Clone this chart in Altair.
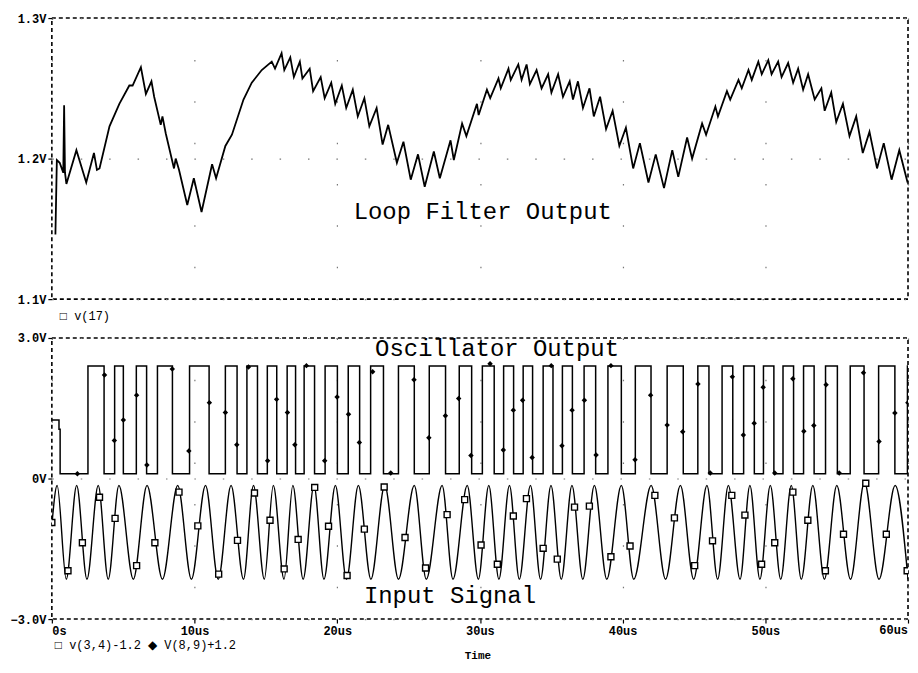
import altair as alt
import pandas as pd

# ---------------- data ----------------
# Loop filter output v(17)  (time in us, volts)
lf_t = [0.25, 0.35, 0.55, 0.80, 0.86, 0.92, 1.02, 1.72, 2.41, 2.95, 3.16, 3.34, 4.04, 4.73,
        5.43, 5.66, 6.24, 6.59, 6.98, 7.17, 7.63, 7.75, 7.98, 8.56, 8.68, 8.91, 9.49, 9.95,
        10.49, 11.23, 11.51, 12.16, 12.62, 13.43, 14.01, 14.71, 15.41, 15.64, 16.10, 16.29,
        16.71, 16.96, 17.38, 17.56, 18.07, 18.31, 18.84, 19.12, 19.58, 19.86, 20.32, 20.63,
        21.09, 21.44, 21.90, 22.25, 22.76, 23.18, 23.57, 24.18, 24.64, 25.15, 25.66, 26.13,
        26.77, 27.19, 27.94, 28.17, 28.75, 29.05, 29.79, 29.91, 30.49, 30.72, 31.30, 31.46,
        32.00, 32.16, 32.69, 32.92, 33.27, 33.50, 33.97, 34.32, 34.78, 35.01, 35.48, 35.82,
        36.29, 36.52, 36.87, 37.22, 37.68, 37.98, 38.42, 38.84, 39.30, 39.77, 40.23, 40.74,
        41.21, 41.81, 42.32, 42.90, 43.48, 43.90, 44.52, 44.87, 45.57, 45.85, 46.50, 46.68,
        47.31, 47.54, 48.12, 48.35, 48.82, 49.05, 49.51, 49.75, 50.21, 50.44, 50.90, 51.14,
        51.60, 51.95, 52.30, 52.65, 53.00, 53.46, 53.93, 54.16, 54.62, 54.97, 55.44, 55.90,
        56.37, 56.83, 57.30, 57.83, 58.30, 58.85, 59.39, 59.97]
lf_v = [1.146, 1.199, 1.197, 1.190, 1.238, 1.190, 1.182, 1.206, 1.183, 1.204, 1.192, 1.193,
        1.223, 1.239, 1.252, 1.252, 1.265, 1.246, 1.255, 1.244, 1.224, 1.230, 1.218, 1.193,
        1.200, 1.192, 1.167, 1.186, 1.162, 1.196, 1.186, 1.209, 1.217, 1.242, 1.254, 1.263,
        1.269, 1.264, 1.275, 1.263, 1.272, 1.258, 1.269, 1.257, 1.264, 1.248, 1.258, 1.243,
        1.254, 1.239, 1.252, 1.236, 1.249, 1.230, 1.243, 1.223, 1.236, 1.210, 1.224, 1.197,
        1.212, 1.185, 1.203, 1.180, 1.205, 1.186, 1.213, 1.199, 1.225, 1.216, 1.239, 1.231,
        1.249, 1.243, 1.257, 1.250, 1.264, 1.256, 1.267, 1.256, 1.267, 1.253, 1.263, 1.250,
        1.260, 1.247, 1.260, 1.244, 1.255, 1.242, 1.255, 1.236, 1.250, 1.230, 1.244, 1.221,
        1.234, 1.209, 1.222, 1.193, 1.211, 1.183, 1.203, 1.179, 1.206, 1.187, 1.215, 1.200,
        1.225, 1.217, 1.237, 1.230, 1.248, 1.242, 1.256, 1.250, 1.263, 1.256, 1.269, 1.260,
        1.270, 1.260, 1.269, 1.258, 1.268, 1.254, 1.264, 1.249, 1.260, 1.242, 1.250, 1.234,
        1.247, 1.226, 1.239, 1.216, 1.230, 1.204, 1.219, 1.193, 1.211, 1.185, 1.206, 1.183]

# Oscillator output V(8,9)+1.2 : start-up values, then edge times
osc_start_t = [0.0, 0.50, 0.58]
osc_start_v = [1.25, 1.05, 0.10]
osc_high, osc_low = 2.40, 0.10
osc_rise_t = [2.53, 4.40, 5.92, 7.40, 9.65, 12.16, 13.67, 15.10, 16.49, 17.68, 19.15, 20.77,
              22.34, 24.29, 26.45, 28.55, 30.17, 31.66, 33.03, 34.43, 35.78, 37.30, 38.97,
              40.89, 43.12, 45.27, 46.97, 48.48, 49.87, 51.24, 52.68, 54.22, 55.95, 57.94, 59.96]
osc_fall_t = [3.66, 5.01, 6.64, 8.45, 11.02, 12.98, 14.41, 15.76, 17.08, 18.41, 20.01, 21.57,
              23.24, 25.40, 27.59, 29.42, 31.00, 32.36, 33.69, 35.12, 36.48, 38.11, 39.91,
              41.99, 44.25, 46.05, 47.72, 49.23, 50.60, 51.98, 53.42, 55.05, 56.92, 59.08]
osc_mk_t = [1.79, 3.69, 4.38, 5.01, 5.94, 6.66, 8.44, 9.60, 11.04, 12.16, 12.96, 13.78, 15.12,
            15.75, 16.51, 17.03, 17.84, 19.12, 19.99, 20.79, 21.55, 22.48, 23.75, 25.38, 26.42,
            27.58, 28.51, 29.37, 30.71, 31.64, 32.34, 32.99, 33.66, 35.00, 35.75, 36.46, 37.32,
            38.14, 39.18, 40.87, 41.96, 43.12, 44.21, 45.28, 46.14, 47.69, 48.46, 49.22, 49.85,
            50.66, 51.93, 52.70, 53.40, 54.26, 55.18, 56.88, 57.97, 59.08, 59.99]
osc_mk_v = [0.10, 2.21, 0.81, 1.25, 1.78, 0.29, 2.34, 0.59, 1.62, 1.41, 0.72, 2.38, 0.38,
            1.69, 1.41, 0.72, 2.41, 0.38, 1.74, 1.37, 0.77, 2.28, 0.12, 2.11, 0.87,
            1.34, 1.71, 0.49, 2.45, 0.61, 1.46, 1.67, 0.45, 2.41, 0.70, 1.46, 1.67,
            0.50, 2.41, 0.40, 1.78, 1.14, 1.00, 2.02, 0.12, 2.17, 0.93, 1.18, 1.95,
            0.12, 2.13, 1.01, 1.13, 2.00, 0.12, 2.26, 0.79, 1.40, 1.62]

# Input signal v(3,4)-1.2 : start value, then peak and trough times
in_start_t, in_start_v = 0.0, -1.0
in_peak_t = [0.37, 1.74, 3.25, 4.70, 6.67, 8.82, 10.77, 12.56, 14.13, 15.52, 16.89, 18.37,
             19.87, 21.48, 23.33, 25.40, 27.35, 29.11, 30.62, 32.07, 33.54, 34.98, 36.45,
             38.02, 39.91, 42.00, 44.05, 45.91, 47.41, 48.92, 50.35, 51.82, 53.33, 55.01,
             56.95, 59.10]
in_peak_v = [-0.15, -0.15, -0.15, -0.15, -0.15, -0.15, -0.15, -0.15, -0.15, -0.15, -0.15, -0.15,
             -0.15, -0.15, -0.15, -0.15, -0.15, -0.15, -0.15, -0.15, -0.15, -0.15, -0.15,
             -0.15, -0.15, -0.15, -0.15, -0.15, -0.15, -0.15, -0.15, -0.15, -0.15, -0.15,
             -0.08, -0.15]
in_trough_t = [1.01, 2.46, 3.95, 5.71, 7.75, 9.78, 11.66, 13.43, 14.89, 16.27, 17.61, 19.07,
               20.65, 22.36, 24.29, 26.24, 28.11, 29.89, 31.33, 32.76, 34.25, 35.70, 37.21,
               38.89, 40.78, 43.01, 44.98, 46.66, 48.23, 49.62, 51.08, 52.52, 54.14, 55.97,
               57.97, 60.0]
in_trough_v = [-2.15, -2.15, -2.15, -2.15, -2.15, -2.15, -2.15, -2.15, -2.15, -2.15, -2.15,
               -2.15, -2.15, -2.15, -2.15, -2.15, -2.15, -2.15, -2.15, -2.15, -2.15, -2.15,
               -2.15, -2.15, -2.15, -2.15, -2.15, -2.15, -2.15, -2.15, -2.15, -2.15, -2.15,
               -2.15, -2.15, -2.15]
in_mk_t = [0.0, 1.13, 2.14, 3.34, 4.43, 5.94, 7.22, 8.91, 10.23, 11.69, 13.01, 14.20, 15.29,
           16.28, 17.26, 18.42, 19.39, 20.69, 21.90, 23.29, 24.75, 26.19, 27.70, 28.93, 30.08,
           31.22, 32.34, 33.26, 34.43, 35.42, 36.63, 37.67, 39.18, 40.52, 42.26, 43.63, 45.05,
           46.30, 47.65, 48.57, 49.74, 50.66, 51.93, 52.98, 54.21, 55.48, 57.04, 58.48, 59.94]
in_mk_v = [-0.94, -1.97, -1.37, -0.40, -0.85, -1.86, -1.37, -0.29, -1.01, -2.04, -1.32, -0.31,
           -0.89, -1.93, -1.30, -0.19, -1.02, -2.07, -1.08, -0.18, -1.26, -1.91, -0.77, -0.45,
           -1.42, -1.83, -0.80, -0.43, -1.49, -1.72, -0.61, -0.59, -1.67, -1.44, -0.36, -0.84,
           -1.86, -1.33, -0.36, -0.78, -1.83, -1.37, -0.29, -0.89, -1.97, -1.19, -0.10, -1.19,
           -1.97]

x_ticks = [0, 10, 20, 30, 40, 50, 60]
top_ticks = [1.1, 1.2, 1.3]
bot_ticks = [-3.0, 0.0, 3.0]

top_notes = ["Loop Filter Output"]
top_notes_t = [30.2]
top_notes_v = [1.162]
bot_notes = ["Oscillator Output", "Input Signal"]
bot_notes_t = [31.2, 27.9]
bot_notes_v = [2.77, -2.50]

# ---------------- tables ----------------
lf_df = pd.DataFrame({"t": lf_t, "v": lf_v})

osc_rows = list(zip(osc_start_t, osc_start_v))
osc_rows += sorted([(t, osc_high) for t in osc_rise_t] + [(t, osc_low) for t in osc_fall_t])
osc_rows.append((60.0, osc_high))
osc_df = pd.DataFrame(osc_rows, columns=["t", "v"])
osc_mk_df = pd.DataFrame({"t": osc_mk_t, "v": osc_mk_v})

in_rows = [(in_start_t, in_start_v)] + list(zip(in_peak_t, in_peak_v)) + list(zip(in_trough_t, in_trough_v))
in_df = pd.DataFrame(sorted(in_rows), columns=["t", "v"])
in_mk_df = pd.DataFrame({"t": in_mk_t, "v": in_mk_v})

top_note_df = pd.DataFrame({"label": top_notes, "t": top_notes_t, "v": top_notes_v})
bot_note_df = pd.DataFrame({"label": bot_notes, "t": bot_notes_t, "v": bot_notes_v})

W, H1, H2 = 859, 282, 282
MONO = "Liberation Mono"

xscale = alt.Scale(domain=[0, 60], nice=False, zero=False)

x_top = alt.X("t:Q", scale=xscale,
              axis=alt.Axis(values=x_ticks, labels=False, ticks=False, domain=False, title=None,
                            grid=True, gridDash=[1.5, 40], gridColor="#777", gridWidth=1.2))
y_top = alt.Y("v:Q", scale=alt.Scale(domain=[1.1, 1.3], nice=False, zero=False),
              axis=alt.Axis(values=top_ticks, title=None, domain=False, tickSize=4,
                            labelPadding=2, labelExpr="format(datum.value, '.1f') + 'V'",
                            grid=True, gridDash=[1.5, 27], gridColor="#777", gridWidth=1.2))

# the last time label is drawn right-aligned at the plot edge by a text layer below
x_bot = alt.X("t:Q", scale=xscale,
              axis=alt.Axis(values=x_ticks, title=None, domain=False, tickSize=4, labelPadding=2,
                            labelExpr="datum.value == 0 ? '0s' : (datum.value >= 60 ? '' : datum.value + 'us')",
                            grid=True, gridDash=[1.5, 40], gridColor="#777", gridWidth=1.2))
y_bot = alt.Y("v:Q", scale=alt.Scale(domain=[-3, 3], nice=False, zero=False),
              axis=alt.Axis(values=bot_ticks, title=None, domain=False, tickSize=4,
                            labelPadding=2,
                            labelExpr="datum.value == 0 ? '0V' : format(datum.value, '.1f') + 'V'",
                            grid=True, gridDash=[1.5, 27], gridColor="#777", gridWidth=1.2))

# ---------------- top panel ----------------
lf_line = alt.Chart(lf_df).mark_line(color="black", strokeWidth=1.8, clip=True).encode(
    x=x_top, y=y_top)
lf_note = alt.Chart(top_note_df).mark_text(font=MONO, fontSize=24, color="black").encode(
    x="t:Q", y="v:Q", text="label:N")
lf_leg = alt.Chart(pd.DataFrame({"label": ["\u25a1 v(17)"]})).mark_text(
    font=MONO, fontSize=12, align="left", baseline="middle", color="black").encode(
    x=alt.value(8), y=alt.value(H1 + 17), text="label:N")
top = alt.layer(lf_line, lf_note, lf_leg).properties(width=W, height=H1)

# ---------------- bottom panel ----------------
osc_line = alt.Chart(osc_df).mark_line(color="black", strokeWidth=1.5, clip=True,
                                       interpolate="step-after").encode(x=x_bot, y=y_bot)
osc_pts = alt.Chart(osc_mk_df).mark_point(shape="diamond", filled=True, color="black",
                                          size=30, opacity=1, clip=True).encode(x=x_bot, y=y_bot)
in_line = alt.Chart(in_df).mark_line(color="black", strokeWidth=1.4, clip=True,
                                     interpolate="monotone").encode(x=x_bot, y=y_bot)
in_pts = alt.Chart(in_mk_df).mark_point(shape="square", filled=True, fill="white",
                                        stroke="black", strokeWidth=1.4, size=36,
                                        opacity=1, clip=True).encode(x=x_bot, y=y_bot)
bot_note = alt.Chart(bot_note_df).mark_text(font=MONO, fontSize=24, color="black").encode(
    x="t:Q", y="v:Q", text="label:N")
end_lbl = alt.Chart(pd.DataFrame({"label": ["60us"]})).mark_text(
    font=MONO, fontSize=12, fontWeight="bold", align="right", baseline="top",
    color="black").encode(x=alt.value(W), y=alt.value(H2 + 6), text="label:N")
bot_leg = alt.Chart(pd.DataFrame({"label": ["\u25a1 v(3,4)-1.2  \u25c6 V(8,9)+1.2"]})).mark_text(
    font=MONO, fontSize=12, align="left", baseline="middle", color="black").encode(
    x=alt.value(3), y=alt.value(H2 + 26), text="label:N")
time_lbl = alt.Chart(pd.DataFrame({"label": ["Time"]})).mark_text(
    font=MONO, fontSize=11, fontWeight="bold", align="center", baseline="middle",
    color="black").encode(x=alt.value(W / 2 - 2), y=alt.value(H2 + 37), text="label:N")
bottom = alt.layer(osc_line, in_line, osc_pts, in_pts, bot_note, end_lbl, bot_leg,
                   time_lbl).properties(width=W, height=H2)

chart = alt.vconcat(top, bottom, spacing=39, bounds="flush").properties(
    padding={"left": 1, "top": 2, "right": 0, "bottom": 0},
    background="white",
).configure_view(
    stroke="black", strokeWidth=1.6, strokeDash=[4, 3]
).configure_axis(
    labelFont=MONO, labelFontSize=12, labelFontWeight="bold", labelColor="black",
    tickColor="black", tickWidth=1.2
)

chart.save("out.html", embed_options={"renderer": "svg", "actions": False})
